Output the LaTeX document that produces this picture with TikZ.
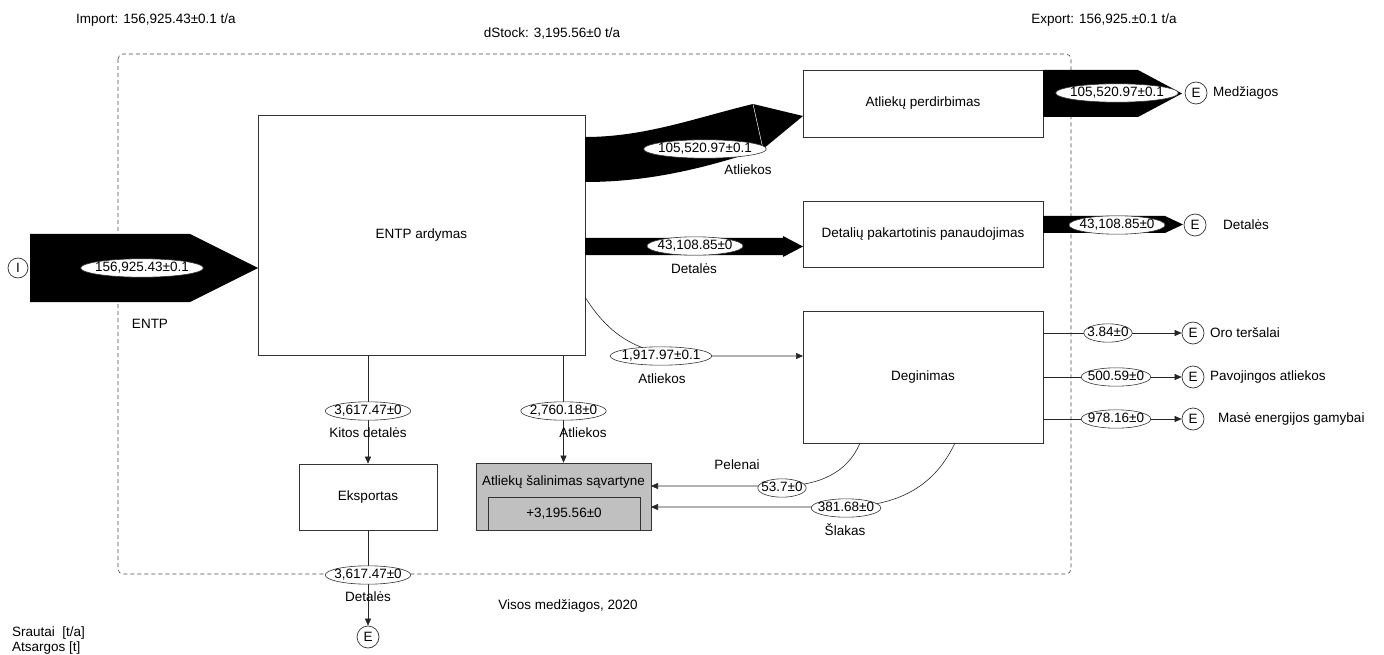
\documentclass[tikz,border=0pt]{standalone}
\usepackage{fontspec}
\setmainfont{Liberation Sans}
\usetikzlibrary{shapes.geometric,arrows.meta}
\definecolor{landgray}{RGB}{192,192,192}
\begin{document}
\begin{tikzpicture}[x=1pt,y=-1pt,
  every node/.style={font=\fontsize{13.5}{15}\selectfont, inner sep=0pt},
  box/.style={draw=black!80, line width=0.7pt, fill=white, align=center},
  val/.style={ellipse, draw=black!80, line width=0.6pt, fill=white, inner xsep=-3.5pt, inner ysep=0.5pt, text height=9.5pt, text depth=2.5pt},
  term/.style={circle, draw=black!80, line width=0.7pt, fill=white, minimum size=22pt},
  arr/.style={draw=black!85, line width=0.6pt, -{Triangle[length=7pt,width=6pt]}},
  flow/.style={fill=black},
  sys/.style={draw=black!70, line width=0.6pt, dash pattern=on 4pt off 3pt, rounded corners=5pt}
]
\useasboundingbox (0,0) rectangle (1384,655);
\fill[white] (0,0) rectangle (1384,655);

% system boundary
\draw[sys] (118,54) rectangle (1071,574);

% headers
\node (imp) at (156,20) {Import: 156,925.43±0.1 t/a};
\node (dst) at (552,33) {dStock: 3,195.56±0 t/a};
\node (exp) at (1104,20) {Export: 156,925.±0.1 t/a};

% processes
\node[box, minimum width=327, minimum height=240] (entp) at (421.5,235) {ENTP ardymas};
\node[box, minimum width=240, minimum height=67] (perd) at (923,103.5) {Atliekų perdirbimas};
\node[box, minimum width=240, minimum height=66] (detp) at (923,234) {Detalių pakartotinis panaudojimas};
\node[box, minimum width=240, minimum height=132] (deg) at (923,377) {Deginimas};
\node[box, minimum width=138, minimum height=66] (eks) at (368,497) {Eksportas};
\node[box, fill=landgray, minimum width=175, minimum height=67] (land) at (563.5,496.5) {};
\node (landt) at (563.5,482) {Atliekų šalinimas sąvartyne};
\node[box, fill=landgray, minimum width=152, minimum height=33] (stock) at (564,513.5) {+3,195.56±0};

% wide flows
\fill[flow] (30,234) -- (190,234) -- (258,268) -- (190,302) -- (30,302) -- cycle;
\fill[flow] (585,137) .. controls (645,137) and (695,118) .. (753,104) -- (803,116) -- (763,149) .. controls (705,168) and (650,182) .. (585,182) -- cycle;
\draw[white, line width=0.5pt] (753,104) -- (763,149);
\fill[flow] (585,238) -- (783,238) -- (783,236) -- (803,246.5) -- (783,257) -- (783,255) -- (585,255) -- cycle;
\fill[flow] (1043,70) -- (1138,70) -- (1182,93.5) -- (1138,117) -- (1043,117) -- cycle;
\fill[flow] (1043,216) -- (1165,216) -- (1183,224.5) -- (1165,233) -- (1043,233) -- cycle;

% terminals
\node[term, minimum size=20pt] (iin) at (18,268) {I};
\node[term] (eM) at (1196,93) {E};
\node[term] (eD) at (1195,225) {E};
\node[term] (e1) at (1193,333) {E};
\node[term] (e2) at (1193,377) {E};
\node[term] (e3) at (1193,419) {E};
\node[term] (eB) at (368,637) {E};

\node[anchor=west] (tM) at (1213,93) {Medžiagos};
\node[anchor=west] (tD) at (1223,225) {Detalės};
\node[anchor=west] (t1) at (1210,333) {Oro teršalai};
\node[anchor=west] (t2) at (1210,377) {Pavojingos atliekos};
\node[anchor=west] (t3) at (1218,419) {Masė energijos gamybai};

% thin connectors
\coordinate (c17a) at (585,297);
\coordinate (c17b) at (803,356);
\coordinate (pA) at (860,443);
\coordinate (pB) at (651,486);
\coordinate (sA) at (955,443);
\coordinate (sB) at (651,507);
\draw[arr] (eks.north |- entp.south) -- (eks.north);
\draw[arr] (land.north |- entp.south) -- (land.north);
\draw[arr] (eks.south) -- (eB);
\draw[arr] (c17a) .. controls (615,345) and (650,356) .. (700,356) -- (c17b);
\draw[arr] (e1 -| deg.east) -- (e1);
\draw[arr] (e2 -| deg.east) -- (e2);
\draw[arr] (e3 -| deg.east) -- (e3);
\draw[arr] (pA) .. controls (848,472) and (820,486) .. (780,486) -- (pB);
\draw[arr] (sA) .. controls (935,485) and (900,507) .. (840,507) -- (sB);

% values
\node[val] (v0) at (142,268) {156,925.43±0.1};
\node[val] (v1) at (705,149) {105,520.97±0.1};
\node[val] (v2) at (695,246) {43,108.85±0};
\node[val] (v3) at (661,356) {1,917.97±0.1};
\node[val] (v4) at (368,411) {3,617.47±0};
\node[val] (v5) at (563.5,411) {2,760.18±0};
\node[val] (v6) at (782,488) {53.7±0};
\node[val] (v7) at (846,508) {381.68±0};
\node[val] (v8) at (1117,93) {105,520.97±0.1};
\node[val] (v9) at (1117,225) {43,108.85±0};
\node[val] (v10) at (1108,333) {3.84±0};
\node[val] (v11) at (1116,377) {500.59±0};
\node[val] (v12) at (1116,419) {978.16±0};
\node[val] (v13) at (368,575) {3,617.47±0};

% flow labels
\node (l0) at (150,324) {ENTP};
\node (l1) at (748,170) {Atliekos};
\node (l2) at (694,269) {Detalės};
\node (l3) at (662,379) {Atliekos};
\node (l4) at (368,433) {Kitos detalės};
\node (l5) at (583,433) {Atliekos};
\node (l6) at (737,465) {Pelenai};
\node (l7) at (845,530) {Šlakas};
\node (l8) at (368,597) {Detalės};
\node (ttl) at (568,606) {Visos medžiagos, 2020};
\node[anchor=west] (lg1) at (12,633) {Srautai\ \ [t/a]};
\node[anchor=west] (lg2) at (12,648) {Atsargos [t]};
\end{tikzpicture}
\end{document}
